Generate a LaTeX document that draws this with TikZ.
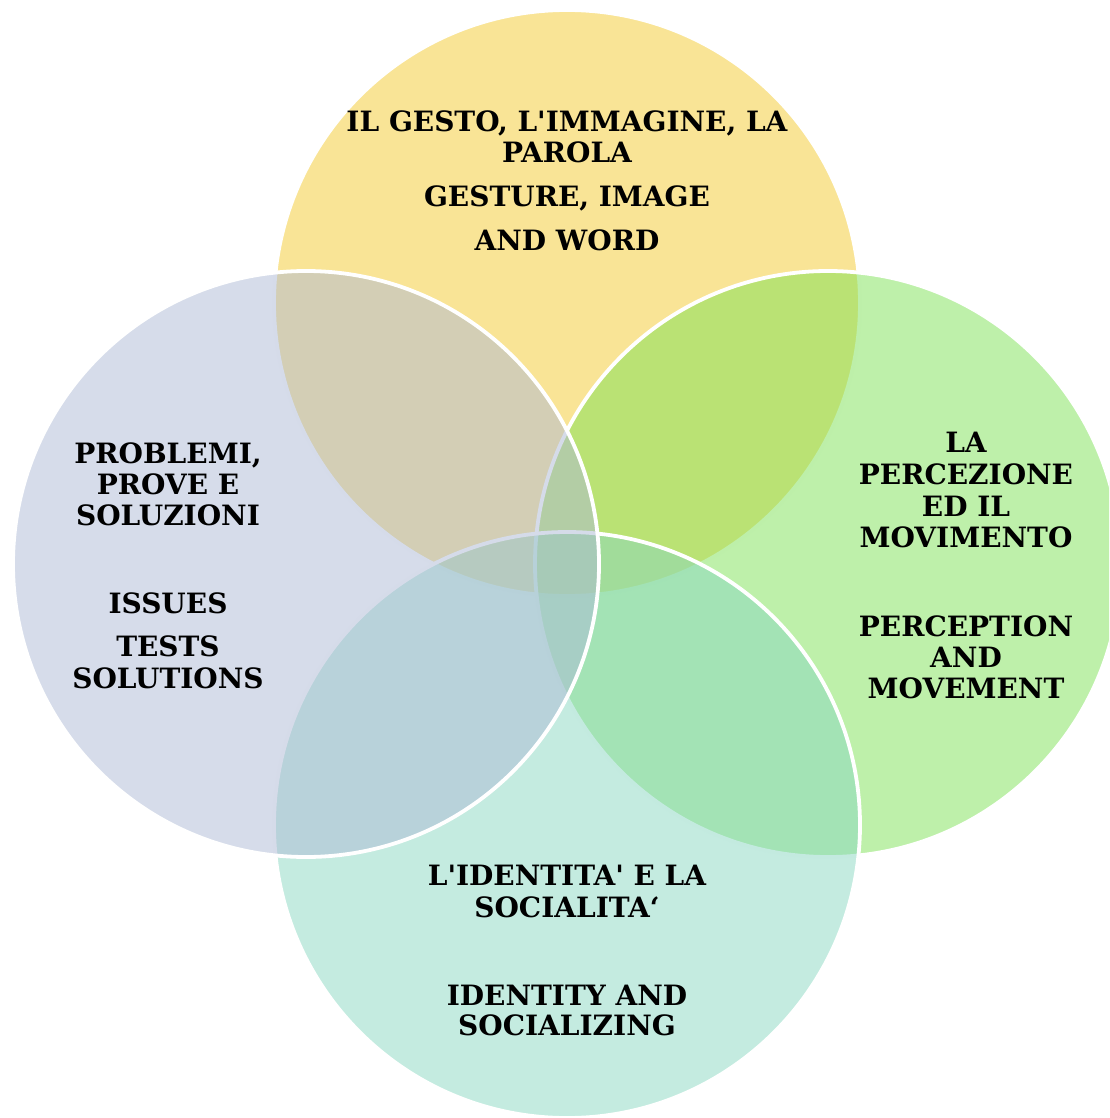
\documentclass[tikz,border=0pt]{standalone}
\usepackage{fontspec}
\setmainfont{DejaVu Serif}
\definecolor{cyel}{RGB}{243,201,45}
\definecolor{clav}{RGB}{173,185,213}
\definecolor{cgrn}{RGB}{125,225,85}
\definecolor{ctea}{RGB}{137,215,193}
\newcommand{\sq}{\textquotesingle}
\begin{document}
\begin{tikzpicture}[x=1pt,y=-1pt,
  circ/.style={draw=white, line width=3.8pt, fill opacity=0.5},
  lbl/.style={anchor=base, inner sep=0pt, font=\fontsize{28}{32}\selectfont\bfseries}]
\useasboundingbox (0,0) rectangle (1109,1118);
\clip (0,0) rectangle (1109,1118);
\coordinate (ct) at (567,303);
\coordinate (cr) at (828,564);
\coordinate (cb) at (567,825);
\coordinate (cl) at (306,564);
\path[circ, fill=cyel] (ct) circle[radius=293];
\path[circ, fill=cgrn] (cr) circle[radius=293];
\path[circ, fill=ctea] (cb) circle[radius=293];
\path[circ, fill=clav] (cl) circle[radius=293];
% top
\node[lbl] (t1) at (567,132) {IL GESTO, L\sq IMMAGINE, LA};
\node[lbl] (t2) at (567,163) {PAROLA};
\node[lbl] (t3) at (567,207) {GESTURE, IMAGE};
\node[lbl] (t4) at (567,250) {AND WORD};
% left
\node[lbl] (l1) at (168,463) {PROBLEMI,};
\node[lbl] (l2) at (168,494) {PROVE E};
\node[lbl] (l3) at (168,525) {SOLUZIONI};
\node[lbl] (l4) at (168,613) {ISSUES};
\node[lbl] (l5) at (168,656) {TESTS};
\node[lbl] (l6) at (168,688) {SOLUTIONS};
% right
\node[lbl] (r1) at (966,452) {LA};
\node[lbl] (r2) at (966,484) {PERCEZIONE};
\node[lbl] (r3) at (966,516) {ED IL};
\node[lbl] (r4) at (966,547) {MOVIMENTO};
\node[lbl] (r5) at (966,636) {PERCEPTION};
\node[lbl] (r6) at (966,667) {AND};
\node[lbl] (r7) at (966,698) {MOVEMENT};
% bottom
\node[lbl] (b1) at (567,885) {L\sq IDENTITA\sq{} E LA};
\node[lbl] (b2) at (567,917) {SOCIALITA‘};
\node[lbl] (b3) at (567,1005) {IDENTITY AND};
\node[lbl] (b4) at (567,1035) {SOCIALIZING};
\end{tikzpicture}
\end{document}
